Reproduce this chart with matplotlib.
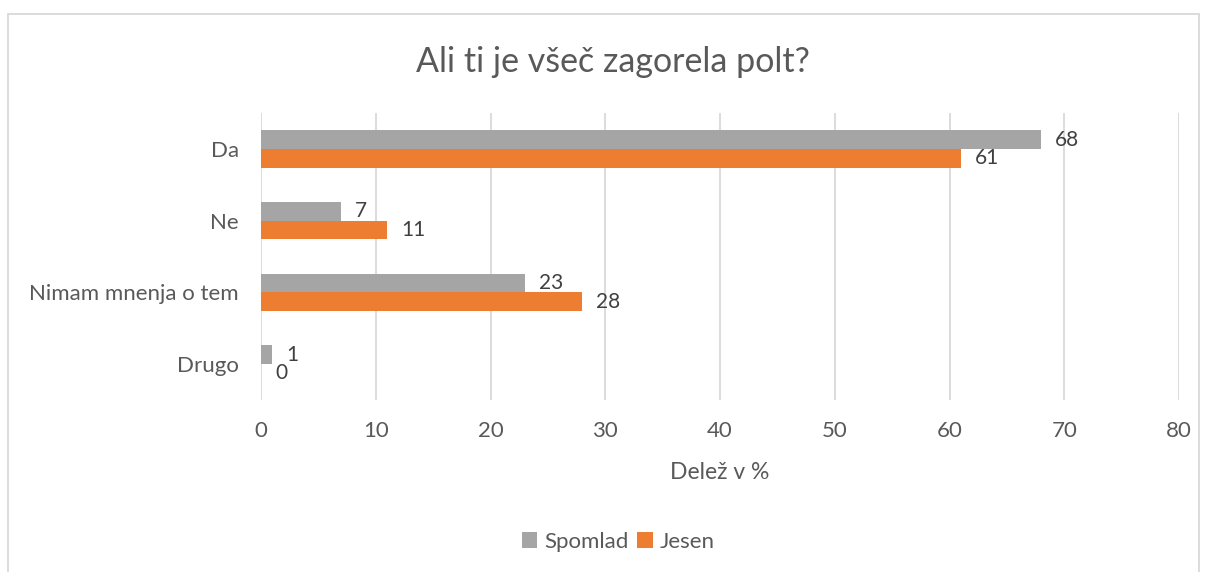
import matplotlib.pyplot as plt
from matplotlib.patches import Rectangle
import numpy as np

plt.rcParams['font.family'] = ['Lato', 'DejaVu Sans']

# Data
categories = ['Da', 'Ne', 'Nimam mnenja o tem', 'Drugo']
spomlad = [68, 7, 23, 1]
jesen = [61, 11, 28, 0]
series_names = ['Spomlad', 'Jesen']
x_ticks = [0, 10, 20, 30, 40, 50, 60, 70, 80]

gray = '#a5a5a5'
orange = '#ed7d31'
text_col = '#595959'
label_col = '#404040'

fig = plt.figure(figsize=(12.08, 5.72), dpi=100)
ax = fig.add_axes([261 / 1208, 1 - 400 / 572, 918 / 1208, 287 / 572])

# Chart border
fig.patches.append(Rectangle((8 / 1208, -0.01), 1191 / 1208, 1 - 14 / 572 + 0.01,
                             transform=fig.transFigure, fill=False,
                             edgecolor='#d9d9d9', linewidth=1.3))

y = np.arange(len(categories))
h = 0.26
b1 = ax.barh(y - h / 2, spomlad, height=h, color=gray, zorder=3, label=series_names[0])
b2 = ax.barh(y + h / 2, jesen, height=h, color=orange, zorder=3, label=series_names[1])

for bars in (b1, b2):
    ax.bar_label(bars, padding=10, fontsize=15, color=label_col)

ax.set_ylim(len(categories) - 0.5, -0.5)
ax.set_xlim(0, 80)
ax.set_xticks(x_ticks)
ax.set_yticks(y)
ax.set_yticklabels(categories)
ax.tick_params(axis='both', length=0, labelsize=16, colors=text_col)
ax.tick_params(axis='x', pad=15)
ax.tick_params(axis='y', pad=16)

ax.grid(axis='x', color='#d9d9d9', linewidth=1.3, zorder=0)
ax.set_axisbelow(True)
for s in ax.spines.values():
    s.set_visible(False)

ax.set_xlabel('Delež v %', fontsize=16.5, color=text_col, labelpad=15)
fig.text(613 / 1208, 1 - 62 / 572, 'Ali ti je všeč zagorela polt?',
         fontsize=24.5, color=text_col, ha='center', va='center')

fig.legend(handles=[b1, b2], labels=series_names, loc='center',
           bbox_to_anchor=(618 / 1208, 1 - 542 / 572), ncol=2, frameon=False,
           fontsize=16, labelcolor=text_col, handlelength=0.7, handleheight=0.7,
           handletextpad=0.3, columnspacing=0.4)

plt.savefig('out.png', dpi=100, facecolor='white')
